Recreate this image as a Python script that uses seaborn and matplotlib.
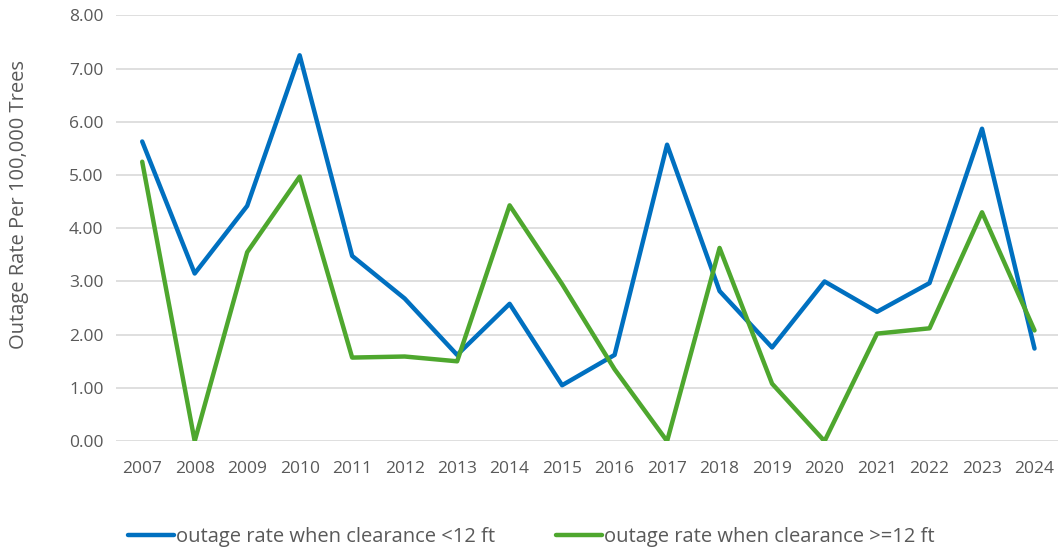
import pandas as pd
import seaborn as sns
import matplotlib.pyplot as plt

# data
years = [str(y) for y in range(2007, 2025)]
rate_under_12 = [5.63, 3.15, 4.42, 7.25, 3.48, 2.68, 1.62, 2.58, 1.05, 1.62,
                 5.57, 2.82, 1.76, 3.00, 2.43, 2.97, 5.87, 1.74]
rate_over_12 = [5.25, 0.00, 3.55, 4.97, 1.57, 1.59, 1.50, 4.43, 2.95, 1.35,
                0.00, 3.63, 1.08, 0.00, 2.02, 2.12, 4.30, 2.08]
series_names = ["outage rate when clearance <12 ft",
                "outage rate when clearance >=12 ft"]
yticks = [0, 1, 2, 3, 4, 5, 6, 7, 8]

df = pd.DataFrame({
    "year": years * 2,
    "rate": rate_under_12 + rate_over_12,
    "series": [series_names[0]] * len(years) + [series_names[1]] * len(years),
})

sns.set_theme(style="white")
plt.rcParams['font.family'] = ['Open Sans', 'DejaVu Sans']
grey = "#595959"

fig = plt.figure(figsize=(10.58, 5.48), dpi=100)
ax = fig.add_axes([0.1096, 0.195, 0.893, 0.777])

sns.lineplot(data=df, x="year", y="rate", hue="series",
             palette=["#0070C0", "#4EA72E"], linewidth=3.2,
             sort=False, ax=ax, legend=True)

ax.set_xlim(-0.5, len(years) - 0.5)
ax.set_ylim(0, 8)
ax.set_yticks(yticks)
ax.set_yticklabels([f"{v:.2f}" for v in yticks])
ax.yaxis.grid(True, color="#D9D9D9", linewidth=1.2)
ax.set_axisbelow(True)
for s in ax.spines.values():
    s.set_visible(False)
ax.tick_params(axis="both", length=0, labelsize=12.5, labelcolor=grey, pad=14)
ax.tick_params(axis="y", pad=9)
ax.set_xlabel("")
ax.set_ylabel("Outage Rate Per 100,000 Trees", fontsize=14.5, color=grey)
ax.yaxis.set_label_coords(-0.092, 0.556)

handles, labels = ax.get_legend_handles_labels()
ax.get_legend().remove()
fig.legend(handles, labels, loc="center", bbox_to_anchor=(0.502, 0.02),
           ncol=2, frameon=False, fontsize=14.5, labelcolor=grey,
           handlelength=2.3, handletextpad=0.1, columnspacing=3.0)

fig.savefig("out.png", dpi=100)
